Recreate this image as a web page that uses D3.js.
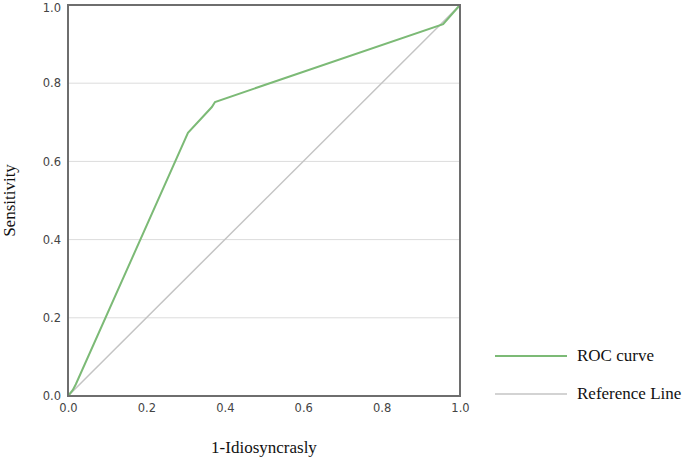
<!DOCTYPE html>
<html><head><meta charset="utf-8">
<script src="https://cdn.jsdelivr.net/npm/d3@7"></script>
<style>body{margin:0;background:#fff}</style>
</head><body>
<script>
const rocX = [0, 0.012, 0.02, 0.306, 0.367, 0.375, 0.957, 1];
const rocY = [0, 0.015, 0.03, 0.673, 0.739, 0.752, 0.951, 1];
const refX = [0, 1];
const refY = [0, 1];
const ticks = [0, 0.2, 0.4, 0.6, 0.8, 1.0];
const tickLabels = ["0.0", "0.2", "0.4", "0.6", "0.8", "1.0"];
const seriesNames = ["ROC curve", "Reference Line"];
const colors = ["#7cba76", "#c4c4c4"];

const W = 685, H = 457;
const svg = d3.select("body").append("svg").attr("width", W).attr("height", H);
const x = d3.scaleLinear().domain([0, 1]).range([68, 460]);
const y = d3.scaleLinear().domain([0, 1]).range([396, 5]);

svg.append("g").selectAll("line").data(ticks.slice(1, 5)).join("line")
  .attr("x1", x(0)).attr("x2", x(1)).attr("y1", d => y(d)).attr("y2", d => y(d))
  .attr("stroke", "#dcdcdc").attr("stroke-width", 1);

const line = d3.line().x(d => x(d[0])).y(d => y(d[1]));
svg.append("path").datum(refX.map((v, i) => [v, refY[i]])).attr("d", line)
  .attr("fill", "none").attr("stroke", colors[1]).attr("stroke-width", 1.5);
svg.append("path").datum(rocX.map((v, i) => [v, rocY[i]])).attr("d", line)
  .attr("fill", "none").attr("stroke", colors[0]).attr("stroke-width", 2);

svg.append("rect").attr("x", x(0)).attr("y", y(1)).attr("width", x(1) - x(0)).attr("height", y(0) - y(1))
  .attr("fill", "none").attr("stroke", "#6e6e6e").attr("stroke-width", 2);

const tf = (d) => tickLabels[ticks.indexOf(d)];
const xAxis = d3.axisBottom(x).tickValues(ticks).tickFormat(tf).tickSize(0).tickPadding(8);
const yAxis = d3.axisLeft(y).tickValues(ticks).tickFormat(tf).tickSize(0).tickPadding(7);
const gx = svg.append("g").attr("transform", `translate(0,${y(0)})`).call(xAxis);
const gy = svg.append("g").attr("transform", `translate(${x(0)},0)`).call(yAxis);
[gx, gy].forEach(g => {
  g.select(".domain").remove();
  g.selectAll("text").attr("font-family", "DejaVu Sans").attr("font-size", 11.5).attr("fill", "#444");
});
gy.selectAll(".tick").filter(d => d === 1).select("text").attr("y", 2.5);

svg.append("text").attr("x", (x(0) + x(1)) / 2).attr("y", 453).attr("text-anchor", "middle").text("1-Idiosyncrasly")
  .attr("font-family", "Liberation Serif").attr("font-size", 17).attr("fill", "#111");
svg.append("text").attr("transform", `translate(14.5,${(y(0) + y(1)) / 2}) rotate(-90)`)
  .attr("text-anchor", "middle").text("Sensitivity")
  .attr("font-family", "Liberation Serif").attr("font-size", 17).attr("fill", "#111");

const lg = svg.append("g").selectAll("g").data(seriesNames).join("g")
  .attr("transform", (d, i) => `translate(495,${356 + i * 38})`);
lg.append("line").attr("x1", 0).attr("x2", 72).attr("stroke", (d, i) => colors[i]).attr("stroke-width", (d, i) => i ? 1.5 : 2);
lg.append("text").attr("x", 82).attr("y", 5).text(d => d)
  .attr("font-family", "Liberation Serif").attr("font-size", 17).attr("fill", "#111");
</script>
</body></html>
